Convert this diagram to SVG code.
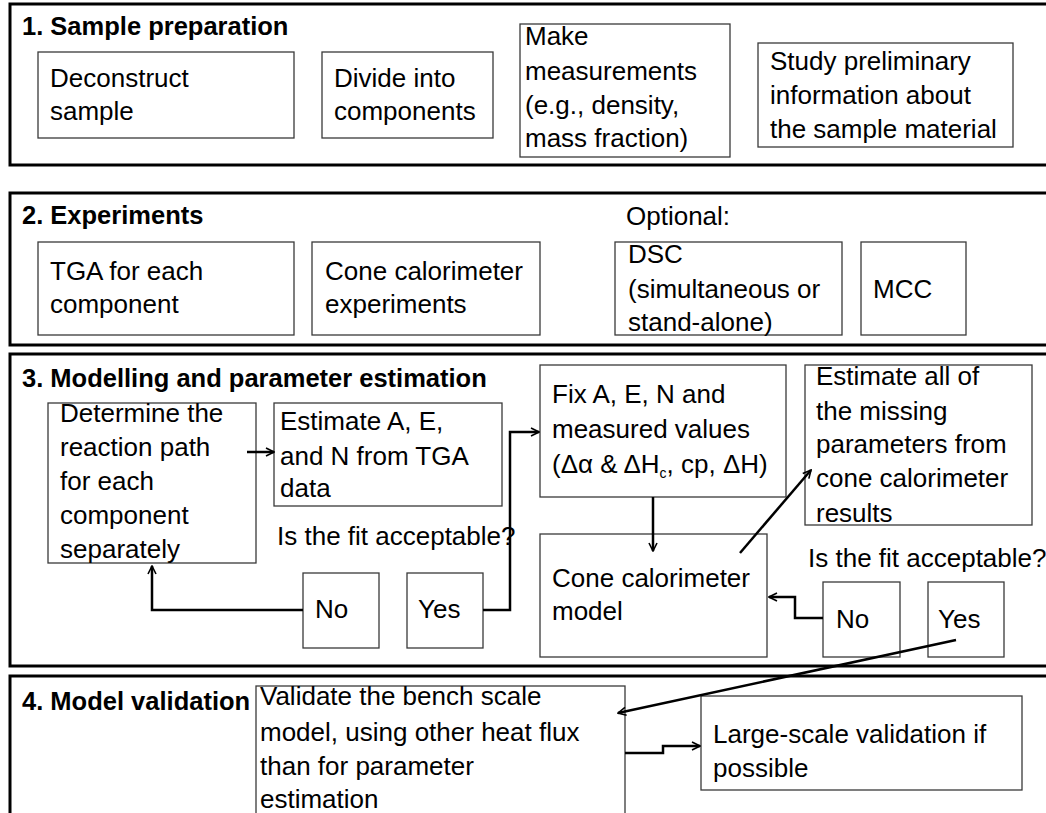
<svg xmlns="http://www.w3.org/2000/svg" width="1046" height="813" viewBox="0 0 1046 813">
<defs>
<style>
.sec{fill:none;stroke:#000;stroke-width:3}
.box{fill:#fff;stroke:#3a3a3a;stroke-width:1.3}
.t{font-family:"Liberation Sans",Arial,sans-serif;font-size:26px;fill:#000}
.h{font-family:"Liberation Sans",Arial,sans-serif;font-size:25.5px;font-weight:bold;fill:#000}
.c{fill:none;stroke:#000;stroke-width:2.5}
</style>
<marker id="ah" viewBox="0 0 10 10" refX="9" refY="5" markerWidth="4" markerHeight="4" orient="auto" markerUnits="strokeWidth">
<path d="M1,1 L9,5 L1,9" fill="none" stroke="#000" stroke-width="1.6"/>
</marker>
</defs>
<rect width="1046" height="813" fill="#fff"/>

<g id="section1">
<rect class="sec" x="10" y="4" width="1045" height="161"/>
<text class="h" x="22" y="35">1. Sample preparation</text>
</g>
<g id="deconstruct">
<rect class="box" x="38" y="52" width="256" height="86"/>
<text class="t" x="50" y="87">Deconstruct</text>
<text class="t" x="50" y="120">sample</text>
</g>
<g id="divide">
<rect class="box" x="322" y="52" width="171" height="86"/>
<text class="t" x="334" y="87">Divide into</text>
<text class="t" x="334" y="120">components</text>
</g>
<g id="measure">
<rect class="box" x="520" y="24" width="210" height="133"/>
<text class="t" x="525" y="45">Make</text>
<text class="t" x="525" y="80">measurements</text>
<text class="t" x="525" y="114">(e.g., density,</text>
<text class="t" x="525" y="147">mass fraction)</text>
</g>
<g id="study">
<rect class="box" x="758" y="43" width="255" height="104"/>
<text class="t" x="770" y="70">Study preliminary</text>
<text class="t" x="770" y="104">information about</text>
<text class="t" x="770" y="138">the sample material</text>
</g>

<g id="section2">
<rect class="sec" x="10" y="193" width="1045" height="152"/>
<text class="h" x="22" y="224">2. Experiments</text>
<text class="t" x="626" y="225">Optional:</text>
</g>
<g id="tga">
<rect class="box" x="38" y="242" width="256" height="93"/>
<text class="t" x="50" y="280">TGA for each</text>
<text class="t" x="50" y="313">component</text>
</g>
<g id="cone-exp">
<rect class="box" x="312" y="242" width="228" height="93"/>
<text class="t" x="325" y="280">Cone calorimeter</text>
<text class="t" x="325" y="313">experiments</text>
</g>
<g id="dsc">
<rect class="box" x="615" y="242" width="227" height="93"/>
<text class="t" x="628" y="263">DSC</text>
<text class="t" x="628" y="298">(simultaneous or</text>
<text class="t" x="628" y="331">stand-alone)</text>
</g>
<g id="mcc">
<rect class="box" x="861" y="242" width="105" height="93"/>
<text class="t" x="873" y="298">MCC</text>
</g>

<g id="section3">
<rect class="sec" x="10" y="354" width="1045" height="312"/>
<text class="h" x="22" y="387">3. Modelling and parameter estimation</text>
<text class="t" x="277" y="545">Is the fit acceptable?</text>
<text class="t" x="808" y="567">Is the fit acceptable?</text>
</g>
<g id="determine">
<rect class="box" x="48" y="403" width="208" height="160"/>
<text class="t" x="60" y="422">Determine the</text>
<text class="t" x="60" y="456">reaction path</text>
<text class="t" x="60" y="490">for each</text>
<text class="t" x="60" y="524">component</text>
<text class="t" x="60" y="558">separately</text>
</g>
<g id="estimate-aen">
<rect class="box" x="274" y="403" width="228" height="103"/>
<text class="t" x="280" y="430">Estimate A, E,</text>
<text class="t" x="280" y="465">and N from TGA</text>
<text class="t" x="280" y="497">data</text>
</g>
<g id="fix">
<rect class="box" x="540" y="365" width="246" height="132"/>
<text class="t" x="552" y="403">Fix A, E, N and</text>
<text class="t" x="552" y="438">measured values</text>
<text class="t" x="552" y="473">(Δα &amp; ΔH<tspan font-size="14" dy="5">c</tspan><tspan dy="-5">, cp, ΔH)</tspan></text>
</g>
<g id="estimate-all">
<rect class="box" x="805" y="365" width="227" height="160"/>
<text class="t" x="816" y="385">Estimate all of</text>
<text class="t" x="816" y="420">the missing</text>
<text class="t" x="816" y="453">parameters from</text>
<text class="t" x="816" y="487">cone calorimeter</text>
<text class="t" x="816" y="522">results</text>
</g>
<g id="cone-model">
<rect class="box" x="540" y="534" width="227" height="123"/>
<text class="t" x="552" y="587">Cone calorimeter</text>
<text class="t" x="552" y="620">model</text>
</g>
<g id="no1">
<rect class="box" x="303" y="573" width="76" height="75"/>
<text class="t" x="315" y="618">No</text>
</g>
<g id="yes1">
<rect class="box" x="407" y="573" width="76" height="75"/>
<text class="t" x="418" y="618">Yes</text>
</g>
<g id="no2">
<rect class="box" x="823" y="582" width="77" height="75"/>
<text class="t" x="836" y="628">No</text>
</g>
<g id="yes2">
<rect class="box" x="928" y="582" width="76" height="75"/>
<text class="t" x="938" y="628">Yes</text>
</g>

<g id="section4">
<rect class="sec" x="10" y="676" width="1045" height="200"/>
<text class="h" x="22" y="710">4. Model validation</text>
</g>
<g id="validate">
<rect class="box" x="256" y="686" width="369" height="200"/>
<text class="t" x="260" y="705">Validate the bench scale</text>
<text class="t" x="260" y="741">model, using other heat flux</text>
<text class="t" x="260" y="775">than for parameter</text>
<text class="t" x="260" y="808">estimation</text>
</g>
<g id="large">
<rect class="box" x="701" y="696" width="321" height="94"/>
<text class="t" x="713" y="743">Large-scale validation if</text>
<text class="t" x="713" y="777">possible</text>
</g>

<g id="connectors">
<path class="c" d="M247,452 H274" marker-end="url(#ah)"/>
<path class="c" d="M303,610 H152 V566" marker-end="url(#ah)"/>
<path class="c" d="M483,610 H510 V432 H539" marker-end="url(#ah)"/>
<path class="c" d="M653,497 V551" marker-end="url(#ah)"/>
<path class="c" d="M740,553 L811,470" marker-end="url(#ah)"/>
<path class="c" d="M823,618 H795 V597 H769" marker-end="url(#ah)"/>
<path class="c" d="M956,640 L618,713" marker-end="url(#ah)"/>
<path class="c" d="M625,753 H663 V746 H700" marker-end="url(#ah)"/>
</g>
</svg>
